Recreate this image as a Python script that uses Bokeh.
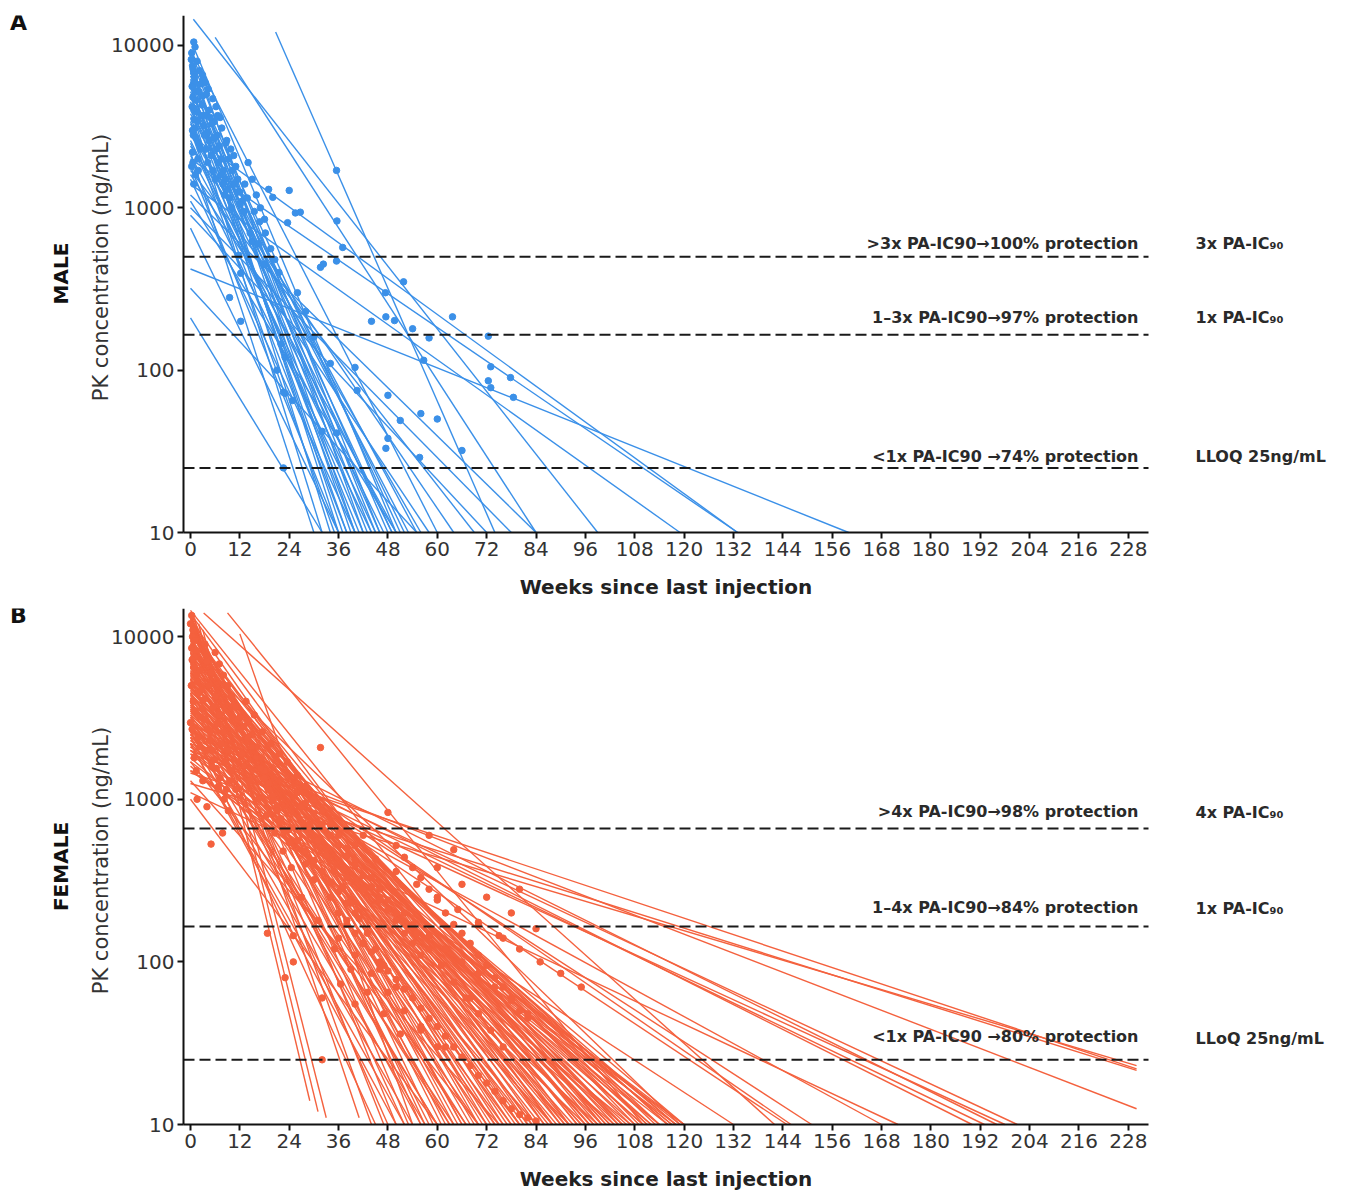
import math
from bokeh.plotting import figure
from bokeh.models import Label, FixedTicker
from bokeh.layouts import column
from bokeh.embed import file_html
from bokeh.resources import INLINE

# ---------------- data ----------------
x_ticks = [0, 12, 24, 36, 48, 60, 72, 84, 96, 108, 120, 132, 144, 156, 168, 180, 192, 204, 216, 228]
y_ticks = [10, 100, 1000, 10000]
y_tick_labels = ["10", "100", "1000", "10000"]

# male subject decay lines: start week, start conc, end week, end conc
male_x0 = [0.7, 0.4, 6, 20.7, 0.5, 0, 0, 0, 0, 0, 0, 0, 0, 0, 0, 0, 0, 0, 0, 0, 0, 0, 0, 0,
           0, 0, 0, 0, 0, 0, 0, 0, 0, 0, 0, 0,
           0, 0, 0, 0, 0, 0, 0, 0, 0, 0, 0, 0, 0, 0, 0, 0]
male_c0 = [14500, 10300, 11200, 12100, 8900, 8000, 7200, 7000, 6500, 6000, 5500, 5200, 5000,
           4500, 4200, 4000, 3600, 3300, 3000, 2800, 2600, 2400, 2200, 2000, 1900, 1700, 1500,
           1400, 1200, 1100, 1000, 900, 750, 420, 320, 210,
           9500, 8500, 7600, 6800, 6200, 5800, 4800, 4300, 3800, 3400, 3100, 2900, 2500, 2100,
           1800, 1600]
male_x1 = [99, 50, 84, 74, 60, 40, 45, 36, 48, 34, 43, 52, 38, 46, 32, 55, 41, 49, 35, 133, 47,
           64, 30, 133, 44, 69, 40, 119, 84, 50, 78, 72, 36, 160, 55, 32,
           42, 46, 39, 51, 44, 37, 49, 40, 53, 42, 38, 56, 45, 50, 36, 58]
male_c1 = [10] * 52

male_pt_week = [0.3, 0.5, 0.8, 1, 1.2, 0.6, 0.4, 1.5, 0.9, 1.1, 0.7, 2, 0.5, 1.8, 0.3, 1.2, 0.8,
                2.5, 3, 2.8, 3.5, 3.2, 4, 4.5, 3.8, 5, 4.2, 5.5, 6, 5.8, 6.5, 7, 7.5, 8, 8.5, 9,
                9.5, 10, 6.2, 7.2, 2.2, 3.1, 4.3, 1.6, 10.5, 11, 11.5, 12, 12.5, 13, 8.8, 9.8,
                14, 15, 16, 17, 18, 14.5, 16.5, 19, 20, 24, 26.7, 23.6, 31.6, 35.6, 37, 35.5,
                11.7, 12.2, 9.5, 12.2, 23, 24.8, 22.6, 21, 23, 22, 32, 35.5, 34, 40, 40.5, 48,
                47.5, 48, 51, 56, 56.7, 55.7, 47.5, 49.6, 63.7, 58, 73, 77.8, 72.4, 78.5, 73,
                51.8, 47.4, 32.3, 35.5, 72.4, 22.6, 66, 60, 54, 44, 28, 30, 26, 18, 15, 25.5,
                0.2, 0.6, 1.0, 0.4, 1.4, 0.9, 1.7, 0.5, 1.3, 2.4, 0.6, 1.9, 2.7, 3.4, 3.9, 4.6,
                5.2, 5.7, 6.3, 6.8, 7.4, 7.9, 8.3, 2.1, 2.9, 3.6, 1.1, 0.8, 4.8, 5.4, 6.6, 7.6,
                8.6, 9.3, 10.2, 10.8, 11.4, 12.1, 13.2, 13.8, 15.5, 16.8, 18.2, 19.5, 20.5, 21.5]
male_pt_conc = [9000, 7500, 6800, 6000, 5200, 4800, 4200, 3900, 3500, 3100, 2800, 2500, 2200,
                2000, 1800, 1600, 1400, 5800, 4900, 4300, 3700, 3200, 2900, 2600, 2300, 2100,
                1900, 1700, 1500, 3400, 2800, 2400, 2000, 1700, 1500, 1300, 1150, 1000, 4200,
                3600, 7000, 6200, 5400, 8000, 2100, 1800, 1500, 1250, 1100, 950, 2600, 2300,
                1900, 1500, 1200, 1000, 850, 700, 600, 1300, 1160, 1280, 940, 810, 430, 830,
                570, 1700, 510, 395, 280, 200, 72, 65, 73, 100, 120, 145, 42, 41, 110, 104, 75,
                38, 33, 70, 49, 54, 115, 29, 213, 202, 213, 158, 105, 90, 86, 68, 78, 350, 300,
                450, 470, 162, 25, 32, 50, 180, 200, 230, 160, 300, 450, 620, 930,
                8200, 7200, 6400, 5600, 4600, 4100, 3400, 3000, 2700, 2300, 1900, 1700, 3700,
                2800, 5000, 4000, 3300, 2700, 2300, 1900, 1600, 1400, 1200, 5200, 6600, 5900,
                9800, 10500, 3600, 4700, 3700, 3100, 2500, 2000, 1700, 1400, 1250, 1050, 1400,
                1150, 950, 820, 700, 560, 480, 400]

# female subject decay lines
female_x0 = [1, 2, 3, 0, 0, 0, 0, 12, 0, 0, 0, 0, 0, 0, 0, 0, 0, 0, 0, 0, 0, 0, 0, 0, 0, 0, 0,
             0, 0, 0, 0, 0, 0, 0, 9, 0, 0, 0, 0, 0, 0, 0, 0, 0, 0, 0, 3.2, 0, 0, 0, 0, 0, 0, 0,
             0, 0, 0, 0, 0, 0, 0, 0, 0, 0, 0, 0, 0, 0, 0, 0, 0, 0, 0, 0,
             0, 0, 0, 0, 0, 0, 0, 0, 0, 0, 0, 0, 0, 0, 0, 0, 0, 0, 0, 0,
             0, 0, 0, 0, 0, 0, 0, 0, 0, 0, 0, 0, 0, 0, 0, 0, 0, 0, 0, 0,
             0, 0, 0, 0, 0, 0, 0, 0, 0, 0, 0, 0, 0, 0, 0, 0, 0, 0, 0, 0,
             0, 0, 0, 0, 0, 0, 0, 0, 0, 0, 0, 0, 0, 0, 0, 0, 0, 0, 0, 0]
female_c0 = [13000, 12000, 11000, 14000, 12500, 10000, 13500, 10400, 8000, 11500, 6500, 9500,
             5000, 12000, 4500, 8500, 4000, 7500, 3500, 10500, 3000, 6500, 2800, 5500, 2500,
             9000, 2200, 4800, 2000, 7000, 1800, 4200, 1600, 6000, 14000, 3800, 5200, 3300,
             4600, 2600, 3000, 8000, 2400, 3600, 2000, 1500, 14000, 2700, 3500, 3000, 2100,
             1100, 2600, 2300, 2900, 2000, 2400, 1250, 1450, 1900, 2200, 1000, 1300, 1700,
             2200, 3000, 5500, 7000, 4000, 3200, 2600, 14500, 11000, 6000,
             13000, 12000, 11000, 10000, 9500, 9000, 8500, 8000, 7500, 7000, 6800, 6200, 5800,
             5400, 5000, 4700, 4400, 4100, 3900, 3700, 3400, 3200, 2900, 2700, 2500, 2300, 2100,
             1900, 1700, 1500, 12500, 10800, 8800, 7200, 6400, 5600, 4900, 4300, 3500, 2800,
             14000, 13000, 12000, 11500, 10500, 9800, 9200, 8700, 8200, 7800, 7300, 6600, 6100,
             5700, 5300, 4900, 4500, 4200, 3800, 3600, 3300, 3100, 2800, 2600, 2400, 2200,
             12800, 11200, 9600, 8400, 7600, 6900, 5900, 5100, 4400, 3700, 3000, 2500, 13800,
             10200]
female_x1 = [29, 31, 33, 41, 44, 47, 53, 54, 58, 61, 63, 66, 67, 70, 72, 74, 76, 78, 80, 82, 84,
             86, 88, 90, 92, 94, 96, 97, 99, 101, 103, 105, 107, 109, 110, 111, 113, 114, 116,
             117, 118, 119, 119, 120, 120, 132, 142, 145, 146, 151, 168, 172, 190, 193, 196,
             198, 201, 230, 230, 230, 230, 60, 75, 70, 50, 45, 48, 52, 56, 60, 64, 100, 88, 80,
             50, 57, 62, 65, 68, 71, 73, 75, 77, 79, 81, 83, 85, 87, 89, 91, 93, 95, 98, 100,
             102, 104, 106, 108, 110, 112, 114, 116, 118, 120, 56, 64, 69, 83, 92, 97, 102, 107,
             112, 117,
             59, 66, 72, 76, 80, 84, 88, 91, 94, 97, 99, 101, 103, 105, 95, 88, 82, 78, 74, 70,
             67, 63, 60, 57, 54, 52, 86, 90, 96, 100, 104, 108, 111, 114, 116, 118, 110, 105,
             92, 98]
female_c1 = [14, 12, 11, 11, 10, 10, 10, 10, 10, 10, 10, 10, 10, 10, 10, 10, 10, 10, 10, 10, 10,
             10, 10, 10, 10, 10, 10, 10, 10, 10, 10, 10, 10, 10, 10, 10, 10, 10, 10, 10, 10, 10,
             10, 10, 10, 10, 10, 10, 10, 10, 10, 10, 10, 10, 10, 10, 10, 23, 21.5, 22, 12.5, 10,
             10, 10, 10, 10, 10, 10, 10, 10, 10, 10, 10, 10,
             10, 10, 10, 10, 10, 10, 10, 10, 10, 10, 10, 10, 10, 10, 10, 10, 10, 10, 10, 10,
             10, 10, 10, 10, 10, 10, 10, 10, 10, 10, 10, 10, 10, 10, 10, 10, 10, 10, 10, 10,
             10, 10, 10, 10, 10, 10, 10, 10, 10, 10, 10, 10, 10, 10, 10, 10, 10, 10, 10, 10,
             10, 10, 10, 10, 10, 10, 10, 10, 10, 10, 10, 10, 10, 10, 10, 10, 10, 10, 10, 10]

female_pt_week = [0, 0.5, 0.3, 1, 0.8, 1.5, 0.2, 2, 0.7, 1.2, 2.5, 0.4, 1.8, 2.2, 0.9, 1.4, 3, 0,
                  1.6, 4, 5, 7.8, 3.5, 4, 5, 4.5, 6, 5.5, 7, 6.5, 8, 7.5, 9, 8.5, 10, 9.5, 11,
                  10.5, 11.5, 12, 6.8, 8.2, 9.2, 5.2, 3.8, 4.8, 12.5, 13, 14, 15, 16, 17, 18, 19,
                  20, 21, 22, 23, 24, 14.5, 16.5, 18.5, 20.5, 22.5, 24.5, 13.5, 15.5, 17.5, 19.5,
                  21.5, 23.5, 18.7, 25, 25, 23, 26, 28, 30, 32, 34, 36, 38, 40, 27, 29, 31, 33,
                  35, 37, 39, 41, 43, 45, 47, 31.6, 36.5, 32, 40, 32, 28, 30, 34, 38, 42, 46, 44,
                  46, 48, 48, 42, 50, 52, 54, 56, 58, 60, 62, 64, 64, 66, 68, 70, 72, 74, 76, 78,
                  80, 82, 55, 58, 61, 64, 67, 70, 73, 76, 60, 66, 72, 78, 84, 70, 76, 80, 68, 62,
                  56, 50, 52, 58,
                  0.3, 0.6, 1.1, 1.4, 0.4, 2.3, 1.7, 2.6, 3.2, 2.8, 3.6, 4.2, 4.6, 5.3, 5.8, 6.3,
                  7.2, 8.7, 6, 7, 8, 9, 10, 11, 12, 13, 14, 15, 16, 17, 18, 19, 20, 21, 22, 24, 26,
                  28, 30, 32, 34, 36, 38, 40, 26, 28, 30, 32, 34, 36, 38, 40, 42, 44, 46, 48, 50,
                  52, 54, 56, 36, 40, 44, 48, 52, 56, 60, 27, 31, 35, 39, 43, 47, 51,
                  36, 38, 40, 42, 44, 46, 48, 50, 52, 54, 56, 58, 60, 62, 64, 66, 68, 70, 72, 74,
                  76, 78, 80, 82, 84, 38, 42, 46, 50, 54, 58, 62, 66, 70, 74, 78, 82, 40, 45, 50,
                  55, 60, 65, 70, 75, 80, 85, 90, 95]
female_pt_conc = [12000, 10000, 8500, 7500, 6500, 5800, 5000, 4500, 4000, 3500, 3200, 2700, 2400,
                  2100, 1800, 1500, 1300, 2960, 1000, 900, 530, 620, 9000, 7000, 6000, 5000,
                  4300, 3700, 3300, 2900, 2600, 2200, 2000, 1700, 1500, 1300, 1150, 3800, 3100,
                  2700, 1200, 1000, 850, 1600, 2000, 2600, 1900, 1600, 3000, 2500, 2100, 1800,
                  1500, 1250, 1050, 900, 760, 640, 540, 1300, 1000, 800, 620, 480, 380, 4000,
                  3300, 2600, 2200, 1900, 1700, 150, 145, 100, 80, 1400, 1200, 1000, 850, 700,
                  600, 500, 420, 900, 700, 560, 450, 360, 290, 230, 185, 150, 120, 95, 2080, 73,
                  60, 55, 25, 400, 320, 250, 180, 130, 90, 330, 280, 830, 240, 600, 520, 440,
                  380, 330, 280, 240, 200, 490, 170, 150, 130, 110, 95, 80, 70, 60, 50, 45, 150,
                  120, 95, 75, 60, 48, 38, 30, 380, 300, 250, 200, 160, 170, 140, 280, 60, 30,
                  40, 70, 200, 600,
                  13500, 11000, 9500, 8200, 7200, 6200, 5300, 4700, 4100, 3600, 3100, 2700, 2300,
                  2000, 1750, 1550, 1350, 1150, 8000, 6800, 5800, 5000, 4300, 3700, 3200, 2800,
                  2400, 2100, 1800, 1550, 1350, 1150, 980, 850, 730, 650, 560, 480, 420, 360, 310,
                  270, 230, 200, 1100, 950, 820, 700, 600, 520, 450, 390, 340, 290, 250, 210, 180,
                  150, 130, 110, 140, 110, 85, 65, 50, 38, 30, 250, 180, 120, 90, 65, 48, 36,
                  200, 170, 150, 130, 115, 100, 88, 78, 68, 60, 52, 45, 40, 35, 30, 26, 23, 20, 18,
                  16, 14, 12.5, 11.5, 11, 10.5, 330, 280, 240, 200, 170, 145, 120, 100, 85, 70, 58,
                  48, 520, 430, 360, 300, 250, 210, 175, 145, 120, 100, 85, 70]

male_thresholds = [500, 165, 25]
male_zone_labels = [">3x PA-IC90\u2192100% protection", "1\u20133x PA-IC90\u219297% protection",
                    "<1x PA-IC90 \u219274% protection"]
male_ref_labels = ["3x PA-IC\u2089\u2080", "1x PA-IC\u2089\u2080", "LLOQ 25ng/mL"]
female_thresholds = [660, 165, 25]
female_zone_labels = [">4x PA-IC90\u219298% protection", "1\u20134x PA-IC90\u219284% protection",
                      "<1x PA-IC90 \u219280% protection"]
female_ref_labels = ["4x PA-IC\u2089\u2080", "1x PA-IC\u2089\u2080", "LLoQ 25ng/mL"]

# ---------------- layout constants (pixels) ----------------
PAGE_W = 1345
X_START, X_END = -1.7, 232.9          # visible axis extent (weeks)
AX_LEFT_PX, AX_RIGHT_PX = 183, 1148   # where that extent sits on the page
K = (X_END - X_START) / (AX_RIGHT_PX - AX_LEFT_PX)
XL, XR = X_START - AX_LEFT_PX * K, X_END + (PAGE_W - AX_RIGHT_PX) * K
FONT = "DejaVu Sans"


def make_panel(letter, sex, color, x0, c0, x1, c1, pw, pc, thresholds, zone_labels,
               ref_labels, y_top, height, top_px, axis_px, zone_off, ref_off):
    frame_h = height - top_px
    dec_px = axis_px / math.log10(y_top / 10.0)
    y_bottom = 10 ** (1 - (frame_h - axis_px) / dec_px)
    p = figure(width=PAGE_W, height=height, x_range=(XL, XR), y_range=(y_bottom, y_top),
               y_axis_type="log", output_backend="svg", toolbar_location=None,
               min_border_left=0, min_border_right=0, min_border_top=top_px,
               min_border_bottom=0)
    p.outline_line_color = None
    p.xgrid.visible = False
    p.ygrid.visible = False

    p.segment(x0=x0, y0=c0, x1=x1, y1=c1, line_color=color, line_width=1.4)
    p.scatter(pw, pc, size=6.5, fill_color=color, line_color=color)

    p.segment(x0=[X_START] * len(thresholds), y0=thresholds,
              x1=[X_END] * len(thresholds), y1=thresholds,
              line_color="#1a1a1a", line_width=2, line_dash="11 5")

    for t, txt, off in zip(thresholds, zone_labels, zone_off):
        p.add_layout(Label(x=X_END, y=t, x_offset=-10, y_offset=off, text=txt,
                           text_align="right", text_baseline="middle",
                           text_font=FONT, text_font_style="bold",
                           text_font_size="16px", text_color="#2a2a2a"))
    for t, txt, off in zip(thresholds, ref_labels, ref_off):
        p.add_layout(Label(x=X_END, y=t, x_offset=47, y_offset=off, text=txt,
                           text_align="left", text_baseline="middle",
                           text_font=FONT, text_font_style="bold",
                           text_font_size="16px", text_color="#2a2a2a"))

    # left-hand texts, anchored to the top-left corner of the axes
    p.add_layout(Label(x=X_START, y=y_top, x_offset=-165, y_offset=-7, text=letter,
                       text_align="center", text_baseline="middle", text_font=FONT,
                       text_font_style="bold", text_font_size="22px", text_color="#111111"))
    p.add_layout(Label(x=X_START, y=y_top, x_offset=-123, y_offset=-258, text=sex,
                       angle=math.pi / 2, text_align="center", text_baseline="middle",
                       text_font=FONT, text_font_style="bold", text_font_size="20px",
                       text_color="#111111"))
    p.add_layout(Label(x=X_START, y=y_top, x_offset=-83, y_offset=-252,
                       text="PK concentration (ng/mL)", angle=math.pi / 2,
                       text_align="center", text_baseline="middle", text_font=FONT,
                       text_font_size="21px", text_color="#333333"))
    p.add_layout(Label(x=(X_START + X_END) / 2, y=10, y_offset=-54,
                       text="Weeks since last injection", text_align="center",
                       text_baseline="middle", text_font=FONT, text_font_style="bold",
                       text_font_size="20px", text_color="#222222"))

    # axes drawn at fixed positions inside the wide frame
    p.yaxis.fixed_location = X_START
    p.yaxis.bounds = (10, y_top)
    p.xaxis.fixed_location = 10
    p.xaxis.bounds = (X_START, X_END)
    p.xaxis.ticker = FixedTicker(ticks=x_ticks)
    p.yaxis.ticker = FixedTicker(ticks=y_ticks, minor_ticks=[])
    p.yaxis.major_label_overrides = dict(zip(y_ticks, y_tick_labels))
    for ax in (p.xaxis, p.yaxis):
        ax.axis_line_width = 2
        ax.axis_line_color = "#111111"
        ax.major_tick_line_width = 2
        ax.major_tick_line_color = "#111111"
        ax.major_tick_out = 6
        ax.major_tick_in = 0
        ax.minor_tick_out = 0
        ax.minor_tick_in = 0
        ax.major_label_text_font = FONT
        ax.major_label_text_font_size = "20px"
        ax.major_label_text_color = "#333333"
        ax.major_label_standoff = 3
    return p


# panel A: page rows 0..600, axes 15..532 ; panel B: rows 600..1191, axes 608..1124
pa = make_panel("A", "MALE", "#3b90e8", male_x0, male_c0, male_x1, male_c1,
                male_pt_week, male_pt_conc, male_thresholds, male_zone_labels,
                male_ref_labels, 15300, 600, 15, 517, [13, 17, 11], [13, 17, 11])
pb = make_panel("B", "FEMALE", "#f4613e", female_x0, female_c0, female_x1, female_c1,
                female_pt_week, female_pt_conc, female_thresholds, female_zone_labels,
                female_ref_labels, 14900, 591, 8, 516, [17, 19, 23], [16, 18, 21])

layout = column(pa, pb)
open("out.html", "w").write(file_html(layout, INLINE))
